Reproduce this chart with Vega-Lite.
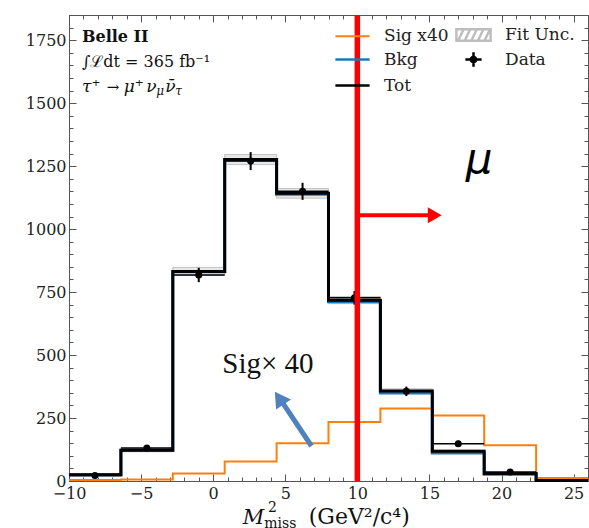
{
  "$schema": "https://vega.github.io/schema/vega-lite/v6.json",
  "width": 519,
  "height": 466,
  "autosize": {"type": "none"},
  "padding": {"left": 69, "top": 15, "right": 1, "bottom": 47},
  "background": "white",
  "config": {
    "font": "DejaVu Serif",
    "view": {"stroke": "#555", "strokeWidth": 1},
    "axis": {"grid": false, "domain": false, "tickColor": "#555", "tickWidth": 1, "labelFont": "DejaVu Serif", "labelFontSize": 16, "labelColor": "#222"}
  },
  "datasets": {
    "bins": [
      {"i": 1, "lo": -10, "hi": -6.4, "c": -8.2, "tot": 25, "bkg": 24.9, "sig": 4, "ulo": 22, "uhi": 28, "data": 22, "dlo": 17.3, "dhi": 26.7},
      {"i": 2, "lo": -6.4, "hi": -2.8, "c": -4.6, "tot": 122, "bkg": 121.8, "sig": 6, "ulo": 116, "uhi": 128, "data": 131, "dlo": 119.6, "dhi": 142.4},
      {"i": 3, "lo": -2.8, "hi": 0.8, "c": -1.0, "tot": 832, "bkg": 831.2, "sig": 30, "ulo": 816, "uhi": 848, "data": 818, "dlo": 789.4, "dhi": 846.6},
      {"i": 4, "lo": 0.8, "hi": 4.4, "c": 2.6, "tot": 1276, "bkg": 1274, "sig": 77, "ulo": 1256, "uhi": 1296, "data": 1270, "dlo": 1234.4, "dhi": 1305.6},
      {"i": 5, "lo": 4.4, "hi": 8.0, "c": 6.2, "tot": 1142, "bkg": 1138.2, "sig": 150, "ulo": 1123, "uhi": 1161, "data": 1150, "dlo": 1116.1, "dhi": 1183.9},
      {"i": 6, "lo": 8.0, "hi": 11.6, "c": 9.8, "tot": 718, "bkg": 712.1, "sig": 234, "ulo": 704, "uhi": 732, "data": 727, "dlo": 700.0, "dhi": 754.0},
      {"i": 7, "lo": 11.6, "hi": 15.2, "c": 13.4, "tot": 357, "bkg": 349.8, "sig": 288, "ulo": 348, "uhi": 366, "data": 356, "dlo": 337.1, "dhi": 374.9},
      {"i": 8, "lo": 15.2, "hi": 18.8, "c": 17.0, "tot": 118, "bkg": 111.5, "sig": 260, "ulo": 113, "uhi": 123, "data": 148, "dlo": 135.8, "dhi": 160.2},
      {"i": 9, "lo": 18.8, "hi": 22.4, "c": 20.6, "tot": 30, "bkg": 26.5, "sig": 142, "ulo": 27, "uhi": 33, "data": 36, "dlo": 30.0, "dhi": 42.0},
      {"i": 10, "lo": 22.4, "hi": 26.0, "c": 24.2, "tot": 2, "bkg": 1.7, "sig": 12, "ulo": 1, "uhi": 3, "data": null, "dlo": null, "dhi": null}
    ]
  },
  "resolve": {"axis": {"x": "independent", "y": "independent"}},
  "layer": [
    {
      "data": {"name": "bins"},
      "mark": {"type": "rect", "fill": "#e8e8e8", "stroke": "#b5b5b5", "strokeWidth": 0.8},
      "encoding": {
        "x": {"field": "lo", "type": "quantitative", "scale": {"domain": [-10, 26], "nice": false, "zero": false},
              "axis": {"orient": "bottom", "values": [-10, -5, 0, 5, 10, 15, 20, 25], "format": "d", "tickSize": -7, "labelPadding": 11, "labelFlush": false, "labelOverlap": false, "title": null}},
        "x2": {"field": "hi"},
        "y": {"field": "ulo", "type": "quantitative", "scale": {"domain": [0, 1850], "nice": false, "zero": true},
              "axis": {"orient": "left", "values": [0, 250, 500, 750, 1000, 1250, 1500, 1750], "format": "d", "tickSize": -7, "labelPadding": 10, "labelOverlap": false, "title": null}},
        "y2": {"field": "uhi"}
      }
    },
    {
      "data": {"name": "bins"},
      "transform": [{"fold": ["lo", "hi"], "as": ["edge", "xe"]}],
      "mark": {"type": "line", "color": "#ff7f0e", "strokeWidth": 2},
      "encoding": {
        "x": {"field": "xe", "type": "quantitative",
              "axis": {"orient": "bottom", "values": [-10,-9,-8,-7,-6,-5,-4,-3,-2,-1,0,1,2,3,4,5,6,7,8,9,10,11,12,13,14,15,16,17,18,19,20,21,22,23,24,25,26], "tickSize": -4, "labels": false, "title": null}},
        "y": {"field": "sig", "type": "quantitative",
              "axis": {"orient": "left", "values": [0,50,100,150,200,250,300,350,400,450,500,550,600,650,700,750,800,850,900,950,1000,1050,1100,1150,1200,1250,1300,1350,1400,1450,1500,1550,1600,1650,1700,1750,1800,1850], "tickSize": -4, "labels": false, "title": null}},
        "order": [{"field": "xe", "type": "quantitative"}, {"field": "i", "type": "quantitative"}]
      }
    },
    {
      "data": {"name": "bins"},
      "transform": [{"fold": ["lo", "hi"], "as": ["edge", "xe"]}],
      "mark": {"type": "line", "color": "#1f77b4", "strokeWidth": 3},
      "encoding": {
        "x": {"field": "xe", "type": "quantitative",
              "axis": {"orient": "top", "values": [-10, -5, 0, 5, 10, 15, 20, 25], "tickSize": -7, "labels": false, "title": null}},
        "y": {"field": "bkg", "type": "quantitative",
              "axis": {"orient": "right", "values": [0, 250, 500, 750, 1000, 1250, 1500, 1750], "tickSize": -7, "labels": false, "title": null}},
        "order": [{"field": "xe", "type": "quantitative"}, {"field": "i", "type": "quantitative"}]
      }
    },
    {
      "data": {"name": "bins"},
      "transform": [{"fold": ["lo", "hi"], "as": ["edge", "xe"]}],
      "mark": {"type": "line", "color": "#000000", "strokeWidth": 3},
      "encoding": {
        "x": {"field": "xe", "type": "quantitative",
              "axis": {"orient": "top", "values": [-10,-9,-8,-7,-6,-5,-4,-3,-2,-1,0,1,2,3,4,5,6,7,8,9,10,11,12,13,14,15,16,17,18,19,20,21,22,23,24,25,26], "tickSize": -4, "labels": false, "title": null}},
        "y": {"field": "tot", "type": "quantitative",
              "axis": {"orient": "right", "values": [0,50,100,150,200,250,300,350,400,450,500,550,600,650,700,750,800,850,900,950,1000,1050,1100,1150,1200,1250,1300,1350,1400,1450,1500,1550,1600,1650,1700,1750,1800,1850], "tickSize": -4, "labels": false, "title": null}},
        "order": [{"field": "xe", "type": "quantitative"}, {"field": "i", "type": "quantitative"}]
      }
    },
    {
      "data": {"name": "bins"},
      "mark": {"type": "rule", "color": "#000000", "strokeWidth": 1.5},
      "encoding": {
        "x": {"field": "lo", "type": "quantitative", "axis": null},
        "x2": {"field": "hi"},
        "y": {"field": "data", "type": "quantitative", "axis": null}
      }
    },
    {
      "data": {"name": "bins"},
      "mark": {"type": "rule", "color": "#000000", "strokeWidth": 2},
      "encoding": {
        "x": {"field": "c", "type": "quantitative", "axis": null},
        "y": {"field": "dlo", "type": "quantitative", "axis": null},
        "y2": {"field": "dhi"}
      }
    },
    {
      "data": {"name": "bins"},
      "mark": {"type": "point", "filled": true, "color": "#000000", "size": 50, "opacity": 1},
      "encoding": {
        "x": {"field": "c", "type": "quantitative", "axis": null},
        "y": {"field": "data", "type": "quantitative", "axis": null}
      }
    },
    {
      "data": {"values": [{}]},
      "mark": {"type": "rule", "color": "#ff0000", "strokeWidth": 5.5},
      "encoding": {"x": {"datum": 10, "axis": null}}
    },
    {
      "data": {"values": [{}]},
      "mark": {"type": "rule", "color": "#ff0000", "strokeWidth": 4},
      "encoding": {"x": {"datum": 10, "axis": null}, "x2": {"datum": 15.05}, "y": {"datum": 1055, "axis": null}}
    },
    {
      "data": {"values": [{}]},
      "mark": {"type": "point", "shape": "triangle-right", "size": 256, "filled": true, "color": "#ff0000", "opacity": 1},
      "encoding": {"x": {"datum": 15.37, "axis": null}, "y": {"datum": 1055, "axis": null}}
    },
    {
      "data": {"values": [{}]},
      "mark": {"type": "rule", "color": "#4f81bd", "strokeWidth": 5},
      "encoding": {"x": {"datum": 6.82, "axis": null}, "x2": {"datum": 4.8}, "y": {"datum": 139, "axis": null}, "y2": {"datum": 312}}
    },
    {
      "data": {"values": [{}]},
      "mark": {"type": "point", "shape": "triangle-up", "angle": 326, "size": 324, "filled": true, "color": "#4f81bd", "opacity": 1},
      "encoding": {"x": {"datum": 4.58, "axis": null}, "y": {"datum": 329, "axis": null}}
    },
    {
      "data": {"values": [{}]},
      "mark": {"type": "text", "text": "Sig× 40", "font": "Liberation Serif", "fontSize": 29, "align": "center", "baseline": "alphabetic", "color": "#111"},
      "encoding": {"x": {"datum": 3.8, "axis": null}, "y": {"datum": 427, "axis": null}}
    },
    {
      "data": {"values": [{}]},
      "mark": {"type": "text", "text": "μ", "font": "DejaVu Sans", "fontStyle": "italic", "fontSize": 42, "align": "center", "baseline": "alphabetic", "color": "#000"},
      "encoding": {"x": {"datum": 18.44, "axis": null}, "y": {"datum": 1223, "axis": null}}
    },
    {
      "data": {"values": [{}]},
      "mark": {"type": "text", "text": "Belle II", "font": "DejaVu Serif", "fontWeight": "bold", "fontSize": 16, "align": "left", "baseline": "alphabetic", "color": "#111"},
      "encoding": {"x": {"datum": -9.1, "axis": null}, "y": {"datum": 1744, "axis": null}}
    },
    {
      "data": {"values": [{}]},
      "mark": {"type": "text", "text": "∫ℒdt = 365 fb⁻¹", "font": "DejaVu Serif", "fontSize": 16, "align": "left", "baseline": "alphabetic", "color": "#111"},
      "encoding": {"x": {"datum": -9.1, "axis": null}, "y": {"datum": 1645, "axis": null}}
    },
    {
      "data": {"values": [{}]},
      "mark": {"type": "text", "text": "τ⁺", "font": "DejaVu Serif", "fontStyle": "italic", "fontSize": 17, "align": "left", "baseline": "alphabetic", "color": "#111"},
      "encoding": {"x": {"datum": -9.1, "axis": null}, "y": {"datum": 1546, "axis": null}}
    },
    {
      "data": {"values": [{}]},
      "mark": {"type": "text", "text": "→", "font": "DejaVu Serif", "fontSize": 15, "align": "left", "baseline": "alphabetic", "color": "#111"},
      "encoding": {"x": {"datum": -7.39, "axis": null}, "y": {"datum": 1546, "axis": null}}
    },
    {
      "data": {"values": [{}]},
      "mark": {"type": "text", "text": "μ⁺", "font": "DejaVu Serif", "fontStyle": "italic", "fontSize": 17, "align": "left", "baseline": "alphabetic", "color": "#111"},
      "encoding": {"x": {"datum": -6.2, "axis": null}, "y": {"datum": 1546, "axis": null}}
    },
    {
      "data": {"values": [{}]},
      "mark": {"type": "text", "text": "ν", "font": "DejaVu Serif", "fontStyle": "italic", "fontSize": 17, "align": "left", "baseline": "alphabetic", "color": "#111"},
      "encoding": {"x": {"datum": -4.645, "axis": null}, "y": {"datum": 1546, "axis": null}}
    },
    {
      "data": {"values": [{}]},
      "mark": {"type": "text", "text": "μ", "font": "DejaVu Serif", "fontStyle": "italic", "fontSize": 12, "align": "left", "baseline": "alphabetic", "color": "#111"},
      "encoding": {"x": {"datum": -3.95, "axis": null}, "y": {"datum": 1532, "axis": null}}
    },
    {
      "data": {"values": [{}]},
      "mark": {"type": "text", "text": "ν̄", "font": "DejaVu Serif", "fontStyle": "italic", "fontSize": 17, "align": "left", "baseline": "alphabetic", "color": "#111"},
      "encoding": {"x": {"datum": -3.33, "axis": null}, "y": {"datum": 1546, "axis": null}}
    },
    {
      "data": {"values": [{}]},
      "mark": {"type": "text", "text": "τ", "font": "DejaVu Serif", "fontStyle": "italic", "fontSize": 12, "align": "left", "baseline": "alphabetic", "color": "#111"},
      "encoding": {"x": {"datum": -2.63, "axis": null}, "y": {"datum": 1532, "axis": null}}
    },
    {
      "data": {"values": [{}]},
      "mark": {"type": "text", "text": "M", "font": "DejaVu Serif", "fontStyle": "italic", "fontSize": 21, "align": "left", "baseline": "alphabetic", "color": "#111"},
      "encoding": {"x": {"datum": 2.05, "axis": null}, "y": {"datum": -172, "axis": null}}
    },
    {
      "data": {"values": [{}]},
      "mark": {"type": "text", "text": "2", "font": "DejaVu Serif", "fontSize": 14, "align": "left", "baseline": "alphabetic", "color": "#111"},
      "encoding": {"x": {"datum": 3.8, "axis": null}, "y": {"datum": -125, "axis": null}}
    },
    {
      "data": {"values": [{}]},
      "mark": {"type": "text", "text": "miss", "font": "DejaVu Serif", "fontSize": 14, "align": "left", "baseline": "alphabetic", "color": "#111"},
      "encoding": {"x": {"datum": 3.55, "axis": null}, "y": {"datum": -188, "axis": null}}
    },
    {
      "data": {"values": [{}]},
      "mark": {"type": "text", "text": "(GeV²/c⁴)", "font": "DejaVu Serif", "fontSize": 22, "align": "left", "baseline": "alphabetic", "color": "#111"},
      "encoding": {"x": {"datum": 6.63, "axis": null}, "y": {"datum": -172, "axis": null}}
    },
    {
      "data": {"values": [{"series": "Sig x40"}, {"series": "Bkg"}, {"series": "Tot"}, {"series": "Fit Unc."}, {"series": "Data"}]},
      "mark": {"type": "point", "filled": false, "clip": true, "opacity": 1},
      "encoding": {
        "x": {"datum": 40, "axis": null},
        "y": {"datum": 900, "axis": null},
        "color": {"field": "series", "type": "nominal",
          "scale": {"domain": ["Sig x40", "Bkg", "Tot", "Fit Unc.", "Data"], "range": ["#ff7f0e", "#1f77b4", "#000000", "#bdbdbd", "#000000"]},
          "legend": {"title": null, "orient": "none", "legendX": 271, "legendY": 7, "columns": 2, "columnPadding": 2, "rowPadding": 1, "symbolSize": 484, "labelFont": "DejaVu Serif", "labelFontSize": 17, "labelColor": "#222", "labelOffset": 19, "padding": 0}},
        "shape": {"field": "series", "type": "nominal",
          "scale": {"domain": ["Sig x40", "Bkg", "Tot", "Fit Unc.", "Data"], "range": ["M-1.556,0H1.556", "M-1.556,0H1.556", "M-1.556,0H1.556", "M-1.556,-0.52H1.556V0.52H-1.556ZM-1.4,0.52L-0.9,-0.52M-0.8,0.52L-0.3,-0.52M-0.2,0.52L0.3,-0.52M0.4,0.52L0.9,-0.52M1.0,0.52L1.5,-0.52", "M-0.74,0H0.74M0,-0.67V0.67M-0.23,0A0.23,0.23,0,1,0,0.23,0A0.23,0.23,0,1,0,-0.23,0"]},
          "legend": {"title": null}},
        "strokeWidth": {"field": "series", "type": "ordinal",
          "scale": {"domain": ["Sig x40", "Bkg", "Tot", "Fit Unc.", "Data"], "range": [2.2, 2.5, 2.5, 1, 2.2]},
          "legend": {"title": null}}
      }
    }
  ]
}
